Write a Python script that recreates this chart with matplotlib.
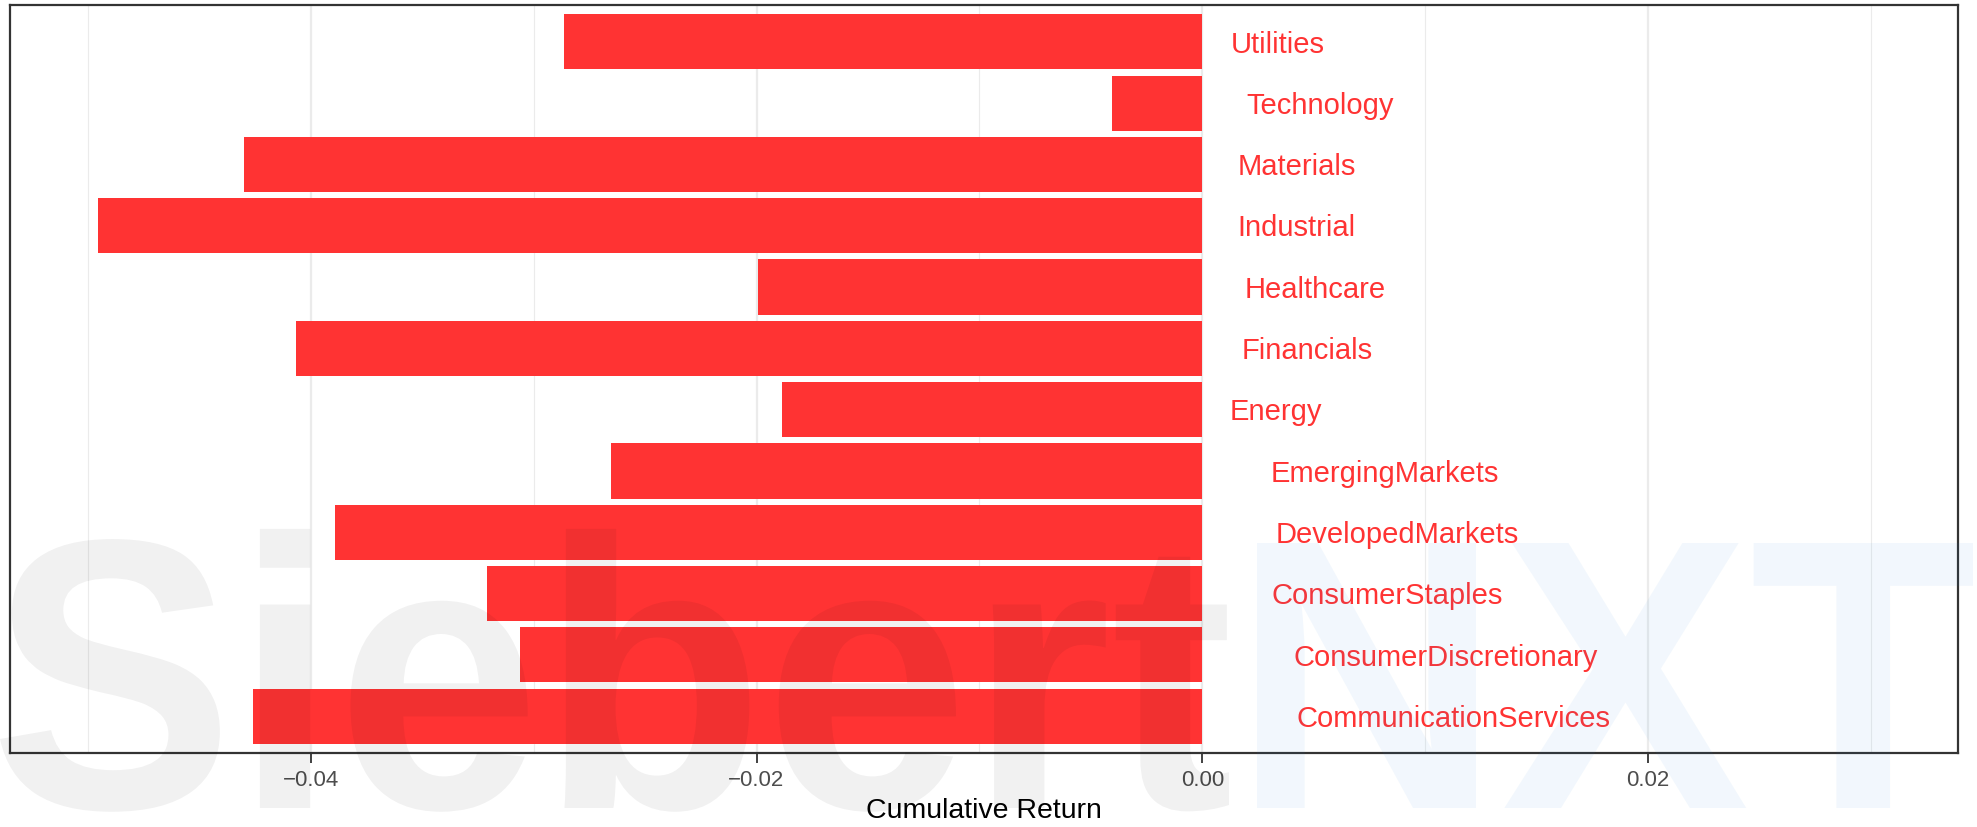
import matplotlib
matplotlib.use("Agg")
import matplotlib.pyplot as plt
import matplotlib.transforms as mtransforms
from matplotlib.textpath import TextPath
from matplotlib.font_manager import FontProperties
from matplotlib.patches import PathPatch
import numpy as np

plt.rcParams['font.family'] = ['Liberation Sans', 'DejaVu Sans']

sectors = ["CommunicationServices", "ConsumerDiscretionary", "ConsumerStaples",
           "DevelopedMarkets", "EmergingMarkets", "Energy", "Financials",
           "Healthcare", "Industrial", "Materials", "Technology", "Utilities"]
returns = [-0.04257, -0.03061, -0.03209, -0.03890, -0.02654, -0.01887,
           -0.04068, -0.01994, -0.04952, -0.04299, -0.00407, -0.02864]
x_ticks = [-0.04, -0.02, 0.00, 0.02]
x_tick_labels = ["\u22120.04", "\u22120.02", "0.00", "0.02"]
x_minor = [-0.05, -0.03, -0.01, 0.01, 0.03]

RED = "#FF3333"

W, H = 1977, 827
fig = plt.figure(figsize=(W/100, H/100), dpi=100)
ax = fig.add_axes([10/W, 1 - 753/H, (1958-10)/W, (753-5)/H])

ypos = np.arange(1, len(sectors) + 1)
ax.barh(ypos, returns, height=0.9, color=RED, zorder=2)

ax.set_xlim(-0.05349, 0.03390)
ax.set_ylim(0.4, len(sectors) + 0.6)
ax.set_yticks([])
ax.set_xticks(x_ticks)
ax.set_xticklabels(x_tick_labels, fontsize=16, color="#4D4D4D")
ax.set_xticks(x_minor, minor=True)
ax.tick_params(axis='x', which='major', length=7, width=1.3, color="#333333", pad=5)
ax.tick_params(axis='x', which='minor', length=0)
ax.grid(axis='x', which='major', color="#EBEBEB", linewidth=1.6, zorder=0)
ax.grid(axis='x', which='minor', color="#EBEBEB", linewidth=0.8, zorder=0)
ax.set_axisbelow(True)
for s in ax.spines.values():
    s.set_color("#333333")
    s.set_linewidth(1.6)

ax.set_xlabel("Cumulative Return", fontsize=20.5, color="black", labelpad=5)

# labels with hjust = -0.3 relative to x = 0
renderer = fig.canvas.get_renderer()
for y, name in zip(ypos, sectors):
    t = ax.text(0, y, name, ha='left', va='center', fontsize=21, color=RED, zorder=3)
    w = t.get_window_extent(renderer).width
    t.set_transform(mtransforms.offset_copy(ax.transData, fig=fig,
                                            x=0.3 * w * 72 / fig.dpi, y=-2,
                                            units='points'))

# watermark (text paths fitted to the reference's extent)
fp = FontProperties(family='Liberation Sans', weight='bold')
p1 = TextPath((0, 0), "Siebert", size=100, prop=fp)
p2 = TextPath((0, 0), "NXT", size=100, prop=fp)
b1 = p1.get_extents()
b2 = p2.get_extents()
baseline = H - 808
sy = 265 / b2.y1
sx1 = 1229 / (b1.x1 - b1.x0)
sx2 = (1973 - 1257) / (b2.x1 - b2.x0)
t1 = mtransforms.Affine2D().translate(-b1.x0, 0).scale(sx1, sy).translate(0, baseline)
t2 = mtransforms.Affine2D().translate(-b2.x0, 0).scale(sx2, sy).translate(1257, baseline)
fig.add_artist(PathPatch(p1, transform=t1, facecolor="black", edgecolor='none',
                         alpha=0.055, zorder=10))
fig.add_artist(PathPatch(p2, transform=t2, facecolor="#2E86DE", edgecolor='none',
                         alpha=0.06, zorder=10))

fig.savefig("out.png", dpi=100)
